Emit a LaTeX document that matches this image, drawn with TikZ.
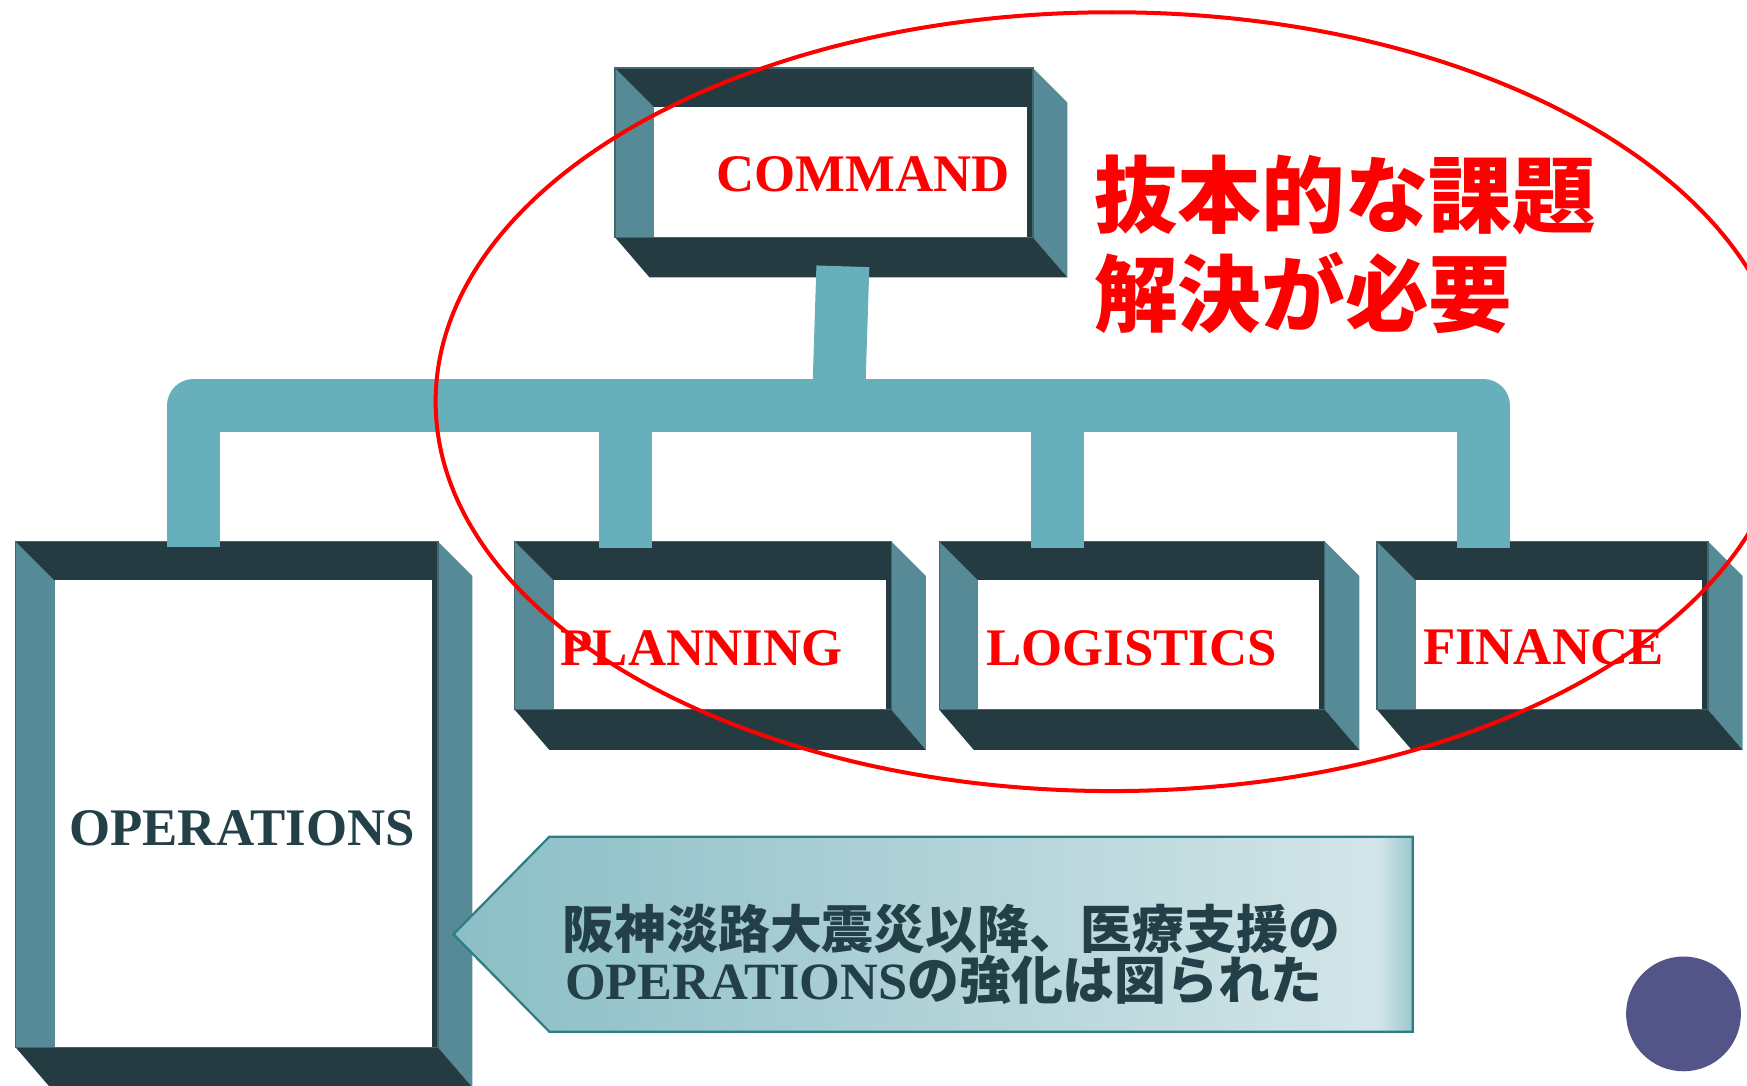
\documentclass[tikz,border=0pt]{standalone}
\usepackage{fontspec}
\setmainfont{Liberation Serif}
\newfontfamily\jpfont{Noto Sans CJK JP}
\definecolor{bandc}{HTML}{253B42}
\definecolor{sidec}{HTML}{568A96}
\definecolor{connc}{HTML}{68AFBC}
\definecolor{edgec}{HTML}{41666E}
\definecolor{txtc}{HTML}{234049}
\definecolor{callL}{HTML}{8BBEC6}
\definecolor{callM}{HTML}{D3E5E8}
\definecolor{callR}{HTML}{9CC8CE}
\definecolor{callB}{HTML}{2E7D83}
\definecolor{dotc}{HTML}{535588}
\pgfdeclarehorizontalshading{callshade}{100bp}{color(0bp)=(callL); color(25bp)=(callL); color(73.2bp)=(callM); color(75bp)=(callR); color(100bp)=(callR)}
% name, x0, y0, x1 (front right), yb (inner bottom)
\newcommand\tdframe[5]{%
  \fill[sidec] (#4,#3) -- ({#4+31},{#3+31}) -- ({#4+31},{#5+36}) -- (#4,#5) -- cycle;
  \fill[bandc] (#2,#5) -- (#4,#5) -- ({#4+31},{#5+36}) -- ({#2+31},{#5+36}) -- cycle;
  \fill[sidec] (#2,#3) rectangle ({#2+35},#5);
  \fill[bandc] (#2,#3) -- (#4,#3) -- (#4,{#3+35}) -- ({#2+35},{#3+35}) -- cycle;
  \fill[bandc] ({#4-5},{#3+35}) rectangle (#4,#5);
  \fill[white] ({#2+35},{#3+35}) rectangle ({#4-5},#5);
  \draw[edgec, line width=1.2] (#2,#3) rectangle (#4,#5);
  \coordinate (#1-nw) at (#2,#3);
  \coordinate (#1-se) at (#4,#5);
}
\tikzset{
  conn/.style={connc, line width=47.5, line join=round, line cap=butt},
  lab/.style={inner sep=0, anchor=base west, font=\bfseries\fontsize{47.4}{52}\selectfont},
  jpred/.style={inner sep=0, anchor=base west, text=red, font=\jpfont\bfseries\fontsize{75}{88}\selectfont},
  jpnote/.style={inner sep=0, anchor=base west, text=txtc, font=\jpfont\bfseries\fontsize{46.5}{52}\selectfont},
}
\begin{document}
\begin{tikzpicture}[x=1pt,y=-1pt]
\useasboundingbox (0,0) rectangle (1568,974);
% boxes
\tdframe{cmd}{552}{61}{927}{213}
\tdframe{ops}{14}{486}{393}{940}
\tdframe{pla}{462}{486}{800}{637}
\tdframe{log}{843}{486}{1189}{637}
\tdframe{fin}{1236}{486}{1533}{637}
% connector anchor points
\coordinate (cmdB) at (756.5,239);
\coordinate (jn) at (752.5,364);
\coordinate (opsT) at (173.5,491);
\coordinate (plaT) at (561.7,492);
\coordinate (logT) at (949.5,492);
\coordinate (finT) at (1331.5,492);
% connectors
\draw[conn] (opsT) -- (opsT |- jn) -- (finT |- jn) -- (finT);
\draw[conn] (plaT |- jn) -- (plaT);
\draw[conn] (logT |- jn) -- (logT);
\draw[conn] (cmdB) -- (jn);
% labels
\node[lab, text=red] (cmdtxt) at (643,172) {COMMAND};
\node[lab, text=red] (platxt) at (503,597) {PLANNING};
\node[lab, text=red] (logtxt) at (885,597) {LOGISTICS};
\node[lab, text=red] (fintxt) at (1277,596) {FINANCE};
\node[lab, text=txtc] (opstxt) at (62,759) {OPERATIONS};
\node[jpred] (issue1) at (982,203) {抜本的な課題};
\node[jpred] (issue2) at (982,292) {解決が必要};
% callout
\path[shading=callshade, draw=callB, line width=2]
  (407,838.5) -- (493,751) -- (1268,751) -- (1268,926) -- (493,926) -- cycle;
\coordinate (callout) at (838,838.5);
\node[jpnote] (note1) at (505,851) {阪神淡路大震災以降、医療支援の};
\node[jpnote] (note2) at (507,897) {{\rmfamily\bfseries\fontsize{47}{52}\selectfont OPERATIONS}の強化は図られた};
% red ellipse
\draw[red, line width=3.6] (998,360.5) ellipse [x radius=607, y radius=349.5];
% dot
\fill[dotc] (1511,910) circle [radius=51.5];
\end{tikzpicture}
\end{document}
